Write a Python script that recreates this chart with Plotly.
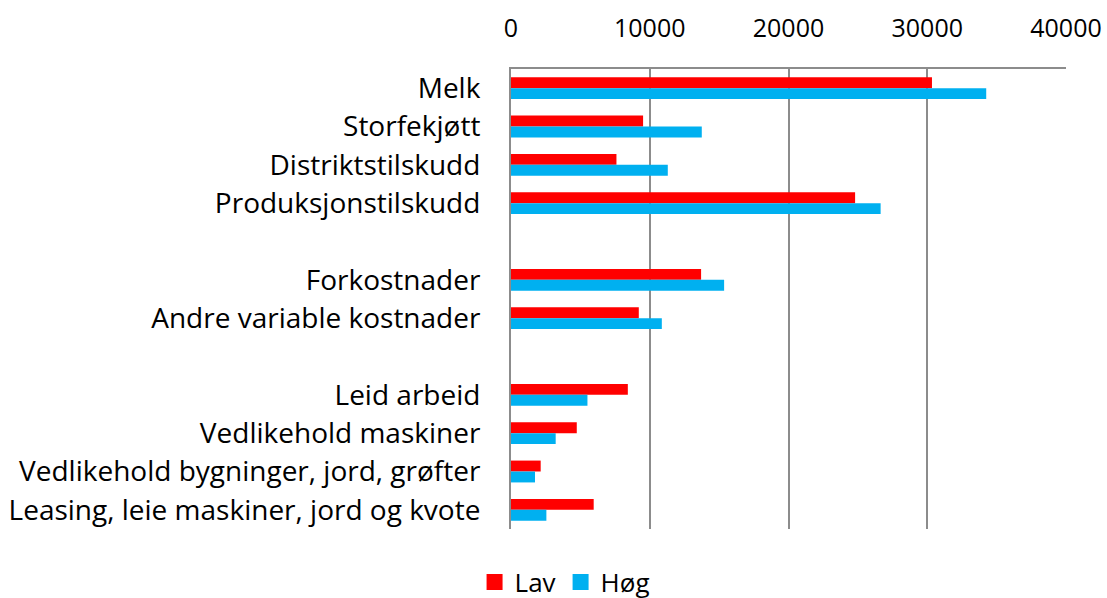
import plotly.graph_objects as go

categories = ["Melk", "Storfekjøtt", "Distriktstilskudd", "Produksjonstilskudd", " ",
              "Forkostnader", "Andre variable kostnader", "  ",
              "Leid arbeid", "Vedlikehold maskiner", "Vedlikehold bygninger, jord, grøfter",
              "Leasing, leie maskiner, jord og kvote"]
lav = [30340, 9520, 7600, 24800, None, 13700, 9210, None, 8420, 4740, 2140, 5960]
hog = [34250, 13750, 11300, 26640, None, 15360, 10870, None, 5510, 3220, 1730, 2550]
tick_vals = [0, 10000, 20000, 30000, 40000]
series_names = ["Lav", "Høg"]
series_colors = ["#FF0000", "#00B0F0"]

font_family = "Open Sans"
W, H = 1107, 598
fig = go.Figure()
for name, vals, col in zip(series_names, [lav, hog], series_colors):
    fig.add_trace(go.Bar(y=categories, x=vals, name=name, orientation="h",
                         marker=dict(color=col, line=dict(width=0)),
                         showlegend=False))
for name, col in zip(series_names, series_colors):
    fig.add_trace(go.Scatter(x=[None], y=[None], mode="markers", name=name,
                             marker=dict(symbol="square", size=18, color=col),
                             showlegend=True))

fig.update_layout(
    width=W, height=H,
    margin=dict(l=511, r=41, t=69, b=69),
    plot_bgcolor="white", paper_bgcolor="white",
    barmode="group", bargap=0.43, bargroupgap=0,
    font=dict(family=font_family, size=28, color="black"),
    legend=dict(orientation="h", x=0.51, xanchor="center", xref="container",
                y=16 / H, yanchor="middle", yref="container",
                font=dict(size=26), itemwidth=30, traceorder="normal",
                itemsizing="trace"),
    xaxis=dict(side="top", range=[0, 40000.1], tickvals=tick_vals,
               ticktext=[str(v) for v in tick_vals],
               tickfont=dict(size=25),
               showgrid=True, gridcolor="#8C8C8C", gridwidth=2,
               showline=True, linecolor="#8C8C8C", linewidth=2,
               zeroline=False, ticks="", ticklabelstandoff=20, automargin=False),
    yaxis=dict(autorange="reversed", type="category", showgrid=False,
               showline=True, linecolor="#8C8C8C", linewidth=2,
               ticks="", ticklabelstandoff=23, zeroline=False, automargin=False),
)
fig.write_html(
    "out.html",
    config={"displayModeBar": False},
    post_script="document.body.style.margin='0';document.body.style.overflow='hidden';",
)
